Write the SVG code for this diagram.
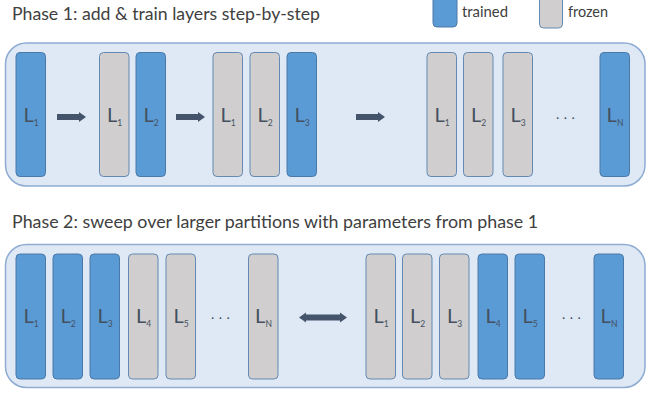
<svg xmlns="http://www.w3.org/2000/svg" width="650" height="406" viewBox="0 0 650 406">
<style>
.title{font-family:Lato,"Liberation Sans",sans-serif;font-size:17.5px;fill:#404040}
.leg{font-family:Lato,"Liberation Sans",sans-serif;font-size:15px;fill:#404040}
.panel{fill:#dfe9f5;stroke:#8eabd2;stroke-width:1.5}
.tr{fill:#5b9bd5;stroke:#4a78a8;stroke-width:1}
.fr{fill:#d0cece;stroke:#6489b2;stroke-width:1}
.lab{font-family:Lato,"Liberation Sans",sans-serif;font-size:20px;fill:#44505f;text-anchor:middle}
.sub{font-size:8.5px}
.dots{font-family:Lato,"Liberation Sans",sans-serif;font-size:14px;fill:#44505f;letter-spacing:4.5px}
.arr{fill:#44546a}
</style>
<defs>
<rect id="bx1" width="29.5" height="124" rx="4"/>
<rect id="bx2" width="29.5" height="125" rx="4"/>
</defs>

<g id="legend">
<text class="title" x="12" y="20" textLength="308" lengthAdjust="spacingAndGlyphs">Phase 1: add &amp; train layers step-by-step</text>
<rect class="tr" x="433" y="-6" width="24" height="33" rx="4"/>
<text class="leg" x="462" y="17" textLength="46" lengthAdjust="spacingAndGlyphs">trained</text>
<rect class="fr" x="539.5" y="-6" width="23" height="34" rx="4"/>
<text class="leg" x="568" y="17" textLength="40" lengthAdjust="spacingAndGlyphs">frozen</text>
<text class="title" x="12" y="228" textLength="526" lengthAdjust="spacingAndGlyphs">Phase 2: sweep over larger partitions with parameters from phase 1</text>
</g>

<g id="phase1">
<rect class="panel" x="5.5" y="43" width="639.5" height="143" rx="21"/>
<g id="p1-s1-L1"><use href="#bx1" class="tr" x="16" y="52.5"/><text class="lab" x="31" y="121.5">L<tspan class="sub" dy="4">1</tspan></text></g>
<g id="p1-s2-L1"><use href="#bx1" class="fr" x="99.5" y="52.5"/><text class="lab" x="114.5" y="121.5">L<tspan class="sub" dy="4">1</tspan></text></g>
<g id="p1-s2-L2"><use href="#bx1" class="tr" x="136" y="52.5"/><text class="lab" x="151" y="121.5">L<tspan class="sub" dy="4">2</tspan></text></g>
<g id="p1-s3-L1"><use href="#bx1" class="fr" x="213" y="52.5"/><text class="lab" x="228" y="121.5">L<tspan class="sub" dy="4">1</tspan></text></g>
<g id="p1-s3-L2"><use href="#bx1" class="fr" x="250" y="52.5"/><text class="lab" x="265" y="121.5">L<tspan class="sub" dy="4">2</tspan></text></g>
<g id="p1-s3-L3"><use href="#bx1" class="tr" x="287" y="52.5"/><text class="lab" x="302" y="121.5">L<tspan class="sub" dy="4">3</tspan></text></g>
<g id="p1-s4-L1"><use href="#bx1" class="fr" x="427" y="52.5"/><text class="lab" x="442" y="121.5">L<tspan class="sub" dy="4">1</tspan></text></g>
<g id="p1-s4-L2"><use href="#bx1" class="fr" x="463.5" y="52.5"/><text class="lab" x="478.5" y="121.5">L<tspan class="sub" dy="4">2</tspan></text></g>
<g id="p1-s4-L3"><use href="#bx1" class="fr" x="503" y="52.5"/><text class="lab" x="518" y="121.5">L<tspan class="sub" dy="4">3</tspan></text></g>
<text class="dots" x="556" y="119">...</text>
<g id="p1-s4-LN"><use href="#bx1" class="tr" x="600" y="52.5"/><text class="lab" x="615" y="121.5">L<tspan class="sub" dy="4">N</tspan></text></g>
</g>

<g id="phase2">
<rect class="panel" x="5.5" y="244.5" width="639.5" height="143" rx="21"/>
<g id="p2-a-L1"><use href="#bx2" class="tr" x="16" y="254"/><text class="lab" x="31" y="323">L<tspan class="sub" dy="4">1</tspan></text></g>
<g id="p2-a-L2"><use href="#bx2" class="tr" x="53" y="254"/><text class="lab" x="68" y="323">L<tspan class="sub" dy="4">2</tspan></text></g>
<g id="p2-a-L3"><use href="#bx2" class="tr" x="90" y="254"/><text class="lab" x="105" y="323">L<tspan class="sub" dy="4">3</tspan></text></g>
<g id="p2-a-L4"><use href="#bx2" class="fr" x="128.5" y="254"/><text class="lab" x="143.5" y="323">L<tspan class="sub" dy="4">4</tspan></text></g>
<g id="p2-a-L5"><use href="#bx2" class="fr" x="166" y="254"/><text class="lab" x="181" y="323">L<tspan class="sub" dy="4">5</tspan></text></g>
<text class="dots" x="211" y="319">...</text>
<g id="p2-a-LN"><use href="#bx2" class="fr" x="248.5" y="254"/><text class="lab" x="263.5" y="323">L<tspan class="sub" dy="4">N</tspan></text></g>
<g id="p2-b-L1"><use href="#bx2" class="fr" x="366" y="254"/><text class="lab" x="381" y="323">L<tspan class="sub" dy="4">1</tspan></text></g>
<g id="p2-b-L2"><use href="#bx2" class="fr" x="402.5" y="254"/><text class="lab" x="417.5" y="323">L<tspan class="sub" dy="4">2</tspan></text></g>
<g id="p2-b-L3"><use href="#bx2" class="fr" x="439.5" y="254"/><text class="lab" x="454.5" y="323">L<tspan class="sub" dy="4">3</tspan></text></g>
<g id="p2-b-L4"><use href="#bx2" class="tr" x="478" y="254"/><text class="lab" x="493" y="323">L<tspan class="sub" dy="4">4</tspan></text></g>
<g id="p2-b-L5"><use href="#bx2" class="tr" x="515" y="254"/><text class="lab" x="530" y="323">L<tspan class="sub" dy="4">5</tspan></text></g>
<text class="dots" x="562" y="319">...</text>
<g id="p2-b-LN"><use href="#bx2" class="tr" x="594" y="254"/><text class="lab" x="609" y="323">L<tspan class="sub" dy="4">N</tspan></text></g>
</g>

<g id="connectors">
<polygon class="arr" points="57,114 79,114 79,112 86,117 79,122 79,120 57,120"/>
<polygon class="arr" points="176,114 198,114 198,112 205,117 198,122 198,120 176,120"/>
<polygon class="arr" points="356,114 378,114 378,112 385,117 378,122 378,120 356,120"/>
<polygon class="arr" points="299,317.5 306,312.5 306,314.5 340,314.5 340,312.5 347,317.5 340,322.5 340,320.5 306,320.5 306,322.5"/>
</g>
</svg>
